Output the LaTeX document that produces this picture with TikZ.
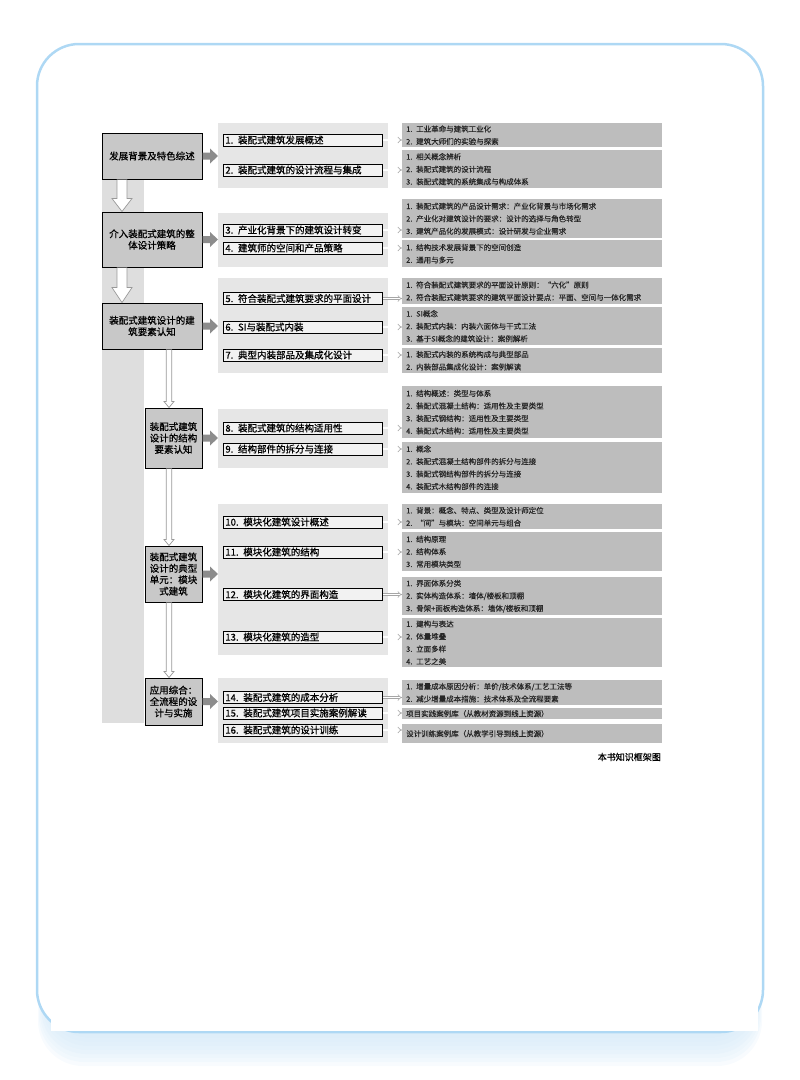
\documentclass[tikz,border=0pt]{standalone}
\usepackage{fontspec}
\setmainfont{Noto Sans CJK SC}
\newfontfamily\heavycjk{Noto Sans CJK SC}[FakeBold=0.7]
\newfontfamily\detailcjk{Noto Sans CJK SC}[FakeBold=0.3]
\usetikzlibrary{arrows.meta,calc}

\definecolor{framecol}{HTML}{AED8F4}
\definecolor{shadecol}{HTML}{D6EAF8}
\definecolor{mainfill}{HTML}{C8C8C8}
\definecolor{panelfill}{HTML}{E6E6E6}
\definecolor{bandfill}{HTML}{DEDEDE}
\definecolor{secfill}{HTML}{F2F2F2}
\definecolor{detfill}{HTML}{BDBDBD}
\definecolor{arrowcol}{HTML}{8C8C8C}

% 空心向下箭头: #1 横向偏移, #2 起点框, #3 终点框, #4 半杆宽, #5 半头宽, #6 头长
\newcommand{\droparrow}[6]{%
  \draw[droparrowline] let \p1=($(#2.south)+(#1,0)$), \p2=(#3.north) in
    (\x1-#4pt,\y1) -- (\x1-#4pt,\y2+#6pt) -- (\x1-#5pt,\y2+#6pt) -- (\x1,\y2)
    -- (\x1+#5pt,\y2+#6pt) -- (\x1+#4pt,\y2+#6pt) -- (\x1+#4pt,\y1);}
% 实心向右箭头: #1 主框, #2 分组底板
\newcommand{\pusharrow}[2]{%
  \fill[arrowcol] let \p1=(#1.east), \p2=(#2.west) in
    (\x1,\y1+3.5pt) -- (\x2-8pt,\y1+3.5pt) -- (\x2-8pt,\y1+7.5pt) -- (\x2,\y1)
    -- (\x2-8pt,\y1-7.5pt) -- (\x2-8pt,\y1-3.5pt) -- (\x1,\y1-3.5pt) -- cycle;}

\begin{document}
\begin{tikzpicture}[x=1pt, y=-1pt,
    mainbox/.style={draw=black, line width=1pt, fill=mainfill, align=center, inner sep=1pt,
      font=\heavycjk\fontsize{9.5}{11.4}\selectfont},
    panel/.style={anchor=north west, fill=panelfill, minimum width=170, inner sep=0pt},
    secbox/.style={anchor=west, draw=black, line width=0.8pt, fill=secfill, text width=155,
      inner xsep=2pt, inner ysep=0pt, minimum height=12, align=left,
      font=\heavycjk\fontsize{9.5}{10}\selectfont},
    detbox/.style={anchor=north west, fill=detfill, text width=252, inner xsep=4pt,
      inner ysep=1pt, align=left, text=black!85, font=\detailcjk\fontsize{7.5}{12.5}\selectfont},
    droparrowline/.style={draw=gray!80, line width=0.7pt, fill=white},
    linkarrow/.style={draw=gray!70, double=white, double distance=1.6pt, line width=0.6pt,
      -{Implies[length=3pt]}}]
    \useasboundingbox (0,0) rectangle (800,1080);

    % 外框与阴影
    \foreach \k in {1,...,8}
        \fill[shadecol, opacity=0.18, rounded corners=45] ({46-\k},80) rectangle ({754+\k},{1034+4*\k});
    \draw[framecol, line width=2.5pt, fill=white, rounded corners=42] (37,44) rectangle (763,1032);
    \fill[white] (51,1000) rectangle (758,1030.5);

    % 左侧灰带
    \node[fill=bandfill, minimum width=42, minimum height=590, inner sep=0pt, anchor=north west] (band) at (102,133) {};

    % 分组底板
    \node[panel, minimum height=65] (G1) at (218,123) {};
    \node[panel, minimum height=54] (G2) at (218,213) {};
    \node[panel, minimum height=95] (G3) at (218,278) {};
    \node[panel, minimum height=59] (G4) at (218,409) {};
    \node[panel, minimum height=151] (G5) at (218,504) {};
    \node[panel, minimum height=65] (G6) at (218,678) {};

    % 主框
    \node[mainbox, minimum width=100, minimum height=46] (M1) at (152,156) {发展背景及特色综述};
    \node[mainbox, minimum width=100, minimum height=55] (M2) at (152,239.5) {介入装配式建筑的整\\体设计策略};
    \node[mainbox, minimum width=100, minimum height=46] (M3) at (152,326) {装配式建筑设计的建\\筑要素认知};
    \node[mainbox, minimum width=57, minimum height=60] (M4) at (173.5,438) {装配式建筑\\设计的结构\\要素认知};
    \node[mainbox, minimum width=57, minimum height=56] (M5) at (173.5,574) {装配式建筑\\设计的典型\\单元：模块\\式建筑};
    \node[mainbox, minimum width=57, minimum height=47] (M6) at (173.5,701.5) {应用综合：\\全流程的设\\计与实施};

    % 主框之间的空心箭头
    \droparrow{-30}{M1}{M2}{5}{10}{13}
    \droparrow{-30}{M2}{M3}{5}{10}{15}
    \droparrow{17}{M3}{M4}{2.8}{5}{6}
    \droparrow{-4.5}{M4}{M5}{2.8}{5}{6}
    \droparrow{-4.5}{M5}{M6}{2.8}{5}{6}

    % 主框到底板
    \pusharrow{M1}{G1}
    \pusharrow{M2}{G2}
    \pusharrow{M3}{G3}
    \pusharrow{M4}{G4}
    \pusharrow{M5}{G5}
    \pusharrow{M6}{G6}

    % 章节
    \node[secbox] (S1) at (223,140) {1. 装配式建筑发展概述};
    \node[secbox] (S2) at (223,170) {2. 装配式建筑的设计流程与集成};
    \node[secbox] (S3) at (223,230) {3. 产业化背景下的建筑设计转变};
    \node[secbox] (S4) at (223,248) {4. 建筑师的空间和产品策略};
    \node[secbox] (S5) at (223,298.5) {5. 符合装配式建筑要求的平面设计};
    \node[secbox] (S6) at (223,327) {6. SI与装配式内装};
    \node[secbox] (S7) at (223,355) {7. 典型内装部品及集成化设计};
    \node[secbox] (S8) at (223,428) {8. 装配式建筑的结构适用性};
    \node[secbox] (S9) at (223,449) {9. 结构部件的拆分与连接};
    \node[secbox] (S10) at (223,522) {10. 模块化建筑设计概述};
    \node[secbox] (S11) at (223,552) {11. 模块化建筑的结构};
    \node[secbox] (S12) at (223,594.5) {12. 模块化建筑的界面构造};
    \node[secbox] (S13) at (223,637) {13. 模块化建筑的造型};
    \node[secbox] (S14) at (223,697.5) {14. 装配式建筑的成本分析};
    \node[secbox] (S15) at (223,713) {15. 装配式建筑项目实施案例解读};
    \node[secbox] (S16) at (223,730) {16. 装配式建筑的设计训练};

    % 要点
    \node[detbox, minimum height=24] (D1) at (402,123) {1. 工业革命与建筑工业化\\2. 建筑大师们的实验与探索};
    \node[detbox, minimum height=38] (D2) at (402,150) {1. 相关概念辨析\\2. 装配式建筑的设计流程\\3. 装配式建筑的系统集成与构成体系};
    \node[detbox, minimum height=39] (D3) at (402,199) {1. 装配式建筑的产品设计需求：产业化背景与市场化需求\\2. 产业化对建筑设计的要求：设计的选择与角色转型\\3. 建筑产品化的发展模式：设计研发与企业需求};
    \node[detbox, minimum height=27] (D4) at (402,240) {1. 结构技术发展背景下的空间创造\\2. 通用与多元};
    \node[detbox, minimum height=26] (D5) at (402,278) {1. 符合装配式建筑要求的平面设计原则：“六化”原则\\2. 符合装配式建筑要求的建筑平面设计要点：平面、空间与一体化需求};
    \node[detbox, minimum height=38] (D6) at (402,307) {1. SI概念\\2. 装配式内装：内装六面体与干式工法\\3. 基于SI概念的建筑设计：案例解析};
    \node[detbox, minimum height=25] (D7) at (402,348) {1. 装配式内装的系统构成与典型部品\\2. 内装部品集成化设计：案例解读};
    \node[detbox, minimum height=52] (D8) at (402,386) {1. 结构概述：类型与体系\\2. 装配式混凝土结构：适用性及主要类型\\3. 装配式钢结构：适用性及主要类型\\4. 装配式木结构：适用性及主要类型};
    \node[detbox, minimum height=51] (D9) at (402,442) {1. 概念\\2. 装配式混凝土结构部件的拆分与连接\\3. 装配式钢结构部件的拆分与连接\\4. 装配式木结构部件的连接};
    \node[detbox, minimum height=25] (D10) at (402,504) {1. 背景：概念、特点、类型及设计师定位\\2. “间”与模块：空间单元与组合};
    \node[detbox, minimum height=39] (D11) at (402,532) {1. 结构原理\\2. 结构体系\\3. 常用模块类型};
    \node[detbox, minimum height=38] (D12) at (402,577) {1. 界面体系分类\\2. 实体构造体系：墙体/楼板和顶棚\\3. 骨架+面板构造体系：墙体/楼板和顶棚};
    \node[detbox, minimum height=49] (D13) at (402,618) {1. 建构与表达\\2. 体量堆叠\\3. 立面多样\\4. 工艺之美};
    \node[detbox, minimum height=25] (D14) at (402,680) {1. 增量成本原因分析：单价/技术体系/工艺工法等\\2. 减少增量成本措施：技术体系及全流程要素};
    \node[detbox, minimum height=11] (D15) at (402,708) {项目实践案例库（从教材资源到线上资源）};
    \node[detbox, minimum height=19] (D16) at (402,724) {设计训练案例库（从教学引导到线上资源）};

    % 章节到要点
    \foreach \s/\d in {S1/D1,S2/D2,S3/D3,S4/D4,S5/D5,S6/D6,S7/D7,S8/D8,S9/D9,S10/D10,S11/D11,S12/D12,S13/D13,S14/D14,S15/D15,S16/D16}
        \draw[linkarrow] (\s.east) -- (\s.east -| \d.west);

    % 图名
    \node[anchor=east, inner sep=0pt, font=\heavycjk\fontsize{9}{9}\selectfont] (caption) at (661,757) {本书知识框架图};
\end{tikzpicture}
\end{document}
